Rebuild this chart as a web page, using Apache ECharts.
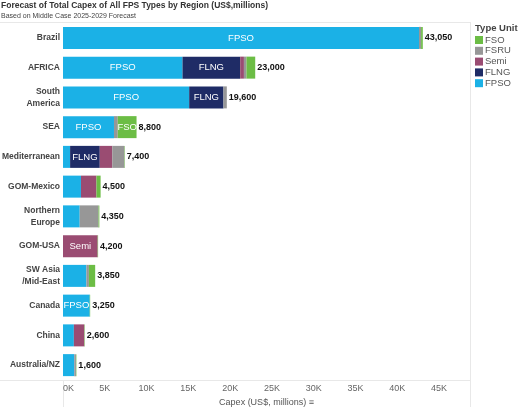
<!DOCTYPE html>
<html>
<head>
<meta charset="utf-8">
<script src="https://cdn.jsdelivr.net/npm/echarts@6/dist/echarts.min.js"></script>
<style>
  html, body { margin: 0; padding: 0; background: #fff; }
  #chart { width: 528px; height: 407px; }
</style>
</head>
<body>
<div id="chart"></div>
<script>
// regions, top to bottom
var regions = ['Brazil', 'AFRICA', 'South\nAmerica', 'SEA', 'Mediterranean', 'GOM-Mexico',
  'Northern\nEurope', 'GOM-USA', 'SW Asia\n/Mid-East', 'Canada', 'China', 'Australia/NZ'];

// capex per type unit (US$ millions)
var fpso  = [42600, 14300, 15100, 6100, 850, 2150, 2000, 0, 2800, 3200, 1300, 1350];
var flng  = [0, 6900, 4100, 0, 3550, 0, 0, 0, 0, 0, 0, 0];
var semi  = [0, 450, 0, 0, 1500, 1850, 0, 4150, 0, 0, 1250, 0];
var fsru  = [250, 300, 400, 450, 1450, 0, 2250, 0, 300, 0, 0, 200];
var fso   = [200, 1050, 0, 2250, 50, 500, 100, 50, 750, 50, 50, 50];
var totals = [43050, 23000, 19600, 8800, 7400, 4500, 4350, 4200, 3850, 3250, 2600, 1600];

// segments that carry their type name inside the bar
var fpsoLabelled = ['Brazil', 'AFRICA', 'South\nAmerica', 'SEA', 'Canada'];
var flngLabelled = ['AFRICA', 'South\nAmerica', 'Mediterranean'];
var semiLabelled = ['GOM-USA'];
var fsoLabelled  = ['SEA'];

var font = 'Liberation Sans, Arial, sans-serif';

function segment(name, values, color, labelled) {
  return {
    name: name,
    type: 'bar',
    stack: 'capex',
    barWidth: 22,
    itemStyle: { color: color },
    label: {
      show: true,
      position: 'inside',
      color: '#fff',
      fontFamily: font,
      fontSize: 9.5,
      formatter: function (p) {
        return labelled.indexOf(p.name) >= 0 ? name : '';
      }
    },
    data: values
  };
}

var chart = echarts.init(document.getElementById('chart'));

chart.setOption({
  animation: false,
  textStyle: { fontFamily: font },
  title: {
    text: 'Forecast of Total Capex of All FPS Types by Region (US$,millions)',
    subtext: 'Based on Middle Case 2025-2029 Forecast',
    left: 1,
    top: 1,
    padding: 0,
    itemGap: 1,
    textStyle: { fontSize: 8.5, fontWeight: 'bold', color: '#333', lineHeight: 10 },
    subtextStyle: { fontSize: 7, color: '#444', lineHeight: 9 }
  },
  legend: {
    data: ['FSO', 'FSRU', 'Semi', 'FLNG', 'FPSO'],
    orient: 'vertical',
    left: 475,
    top: 35,
    padding: 0,
    icon: 'rect',
    itemWidth: 8,
    itemHeight: 8,
    itemGap: 0.8,
    selectedMode: false,
    textStyle: { fontSize: 9.5, color: '#555', lineHeight: 8, padding: [0, 0, 0, -3] }
  },
  grid: { left: 63, right: 58, top: 23, bottom: 27, outerBoundsMode: 'none' },
  xAxis: {
    type: 'value',
    min: 0,
    max: 48700,
    interval: 5000,
    name: 'Capex (US$, millions) \u2261',
    nameLocation: 'middle',
    nameGap: 15,
    nameTextStyle: { fontSize: 9, color: '#555' },
    axisLine: { show: false },
    axisTick: { show: false },
    splitLine: { show: false },
    axisLabel: {
      fontSize: 9,
      color: '#666',
      margin: 4,
      showMaxLabel: false,
      alignMinLabel: 'left',
      formatter: function (v) { return v % 5000 ? '' : (v / 1000) + 'K'; }
    }
  },
  yAxis: {
    type: 'category',
    inverse: true,
    data: regions,
    axisLine: { show: false },
    axisTick: { show: false },
    axisLabel: { fontSize: 8.5, fontWeight: 'bold', color: '#444', margin: 3, lineHeight: 12 }
  },
  series: [
    segment('FPSO', fpso, '#1bb1e6', fpsoLabelled),
    segment('FLNG', flng, '#1f2c66', flngLabelled),
    segment('Semi', semi, '#9a4c72', semiLabelled),
    segment('FSRU', fsru, '#979797', []),
    segment('FSO', fso, '#6cbd45', fsoLabelled),
    {
      name: 'total',
      type: 'bar',
      stack: 'capex',
      barWidth: 22,
      data: totals.map(function () { return 0; }),
      label: {
        show: true,
        position: 'right',
        distance: 2,
        fontSize: 9,
        fontWeight: 'bold',
        color: '#111',
        formatter: function (p) { return totals[p.dataIndex].toLocaleString('en-US'); }
      }
    }
  ],
  graphic: [
    { type: 'text', left: 475, top: 23, style: { text: 'Type Unit', font: 'bold 9.5px ' + font, fill: '#444' } },
    { type: 'line', shape: { x1: 0, y1: 22.5, x2: 470, y2: 22.5 }, style: { stroke: '#e8e8e8', lineWidth: 1 } },
    { type: 'line', shape: { x1: 470.5, y1: 22, x2: 470.5, y2: 407 }, style: { stroke: '#e8e8e8', lineWidth: 1 } },
    { type: 'line', shape: { x1: 0, y1: 380.5, x2: 470, y2: 380.5 }, style: { stroke: '#e8e8e8', lineWidth: 1 } },
    { type: 'line', shape: { x1: 63.5, y1: 380, x2: 63.5, y2: 407 }, style: { stroke: '#e8e8e8', lineWidth: 1 } }
  ]
});
</script>
</body>
</html>
